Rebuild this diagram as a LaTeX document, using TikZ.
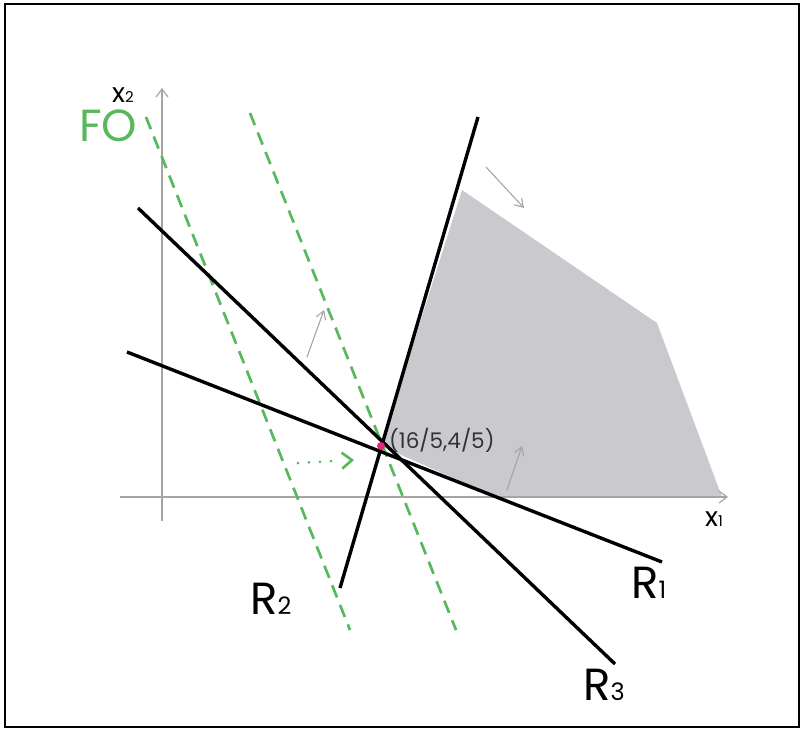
\documentclass[tikz,border=0pt]{standalone}
\usepackage{fontspec}
\setmainfont{Poppins}
\usetikzlibrary{arrows.meta}
\definecolor{fogreen}{RGB}{88,184,92}
\definecolor{regiongray}{RGB}{202,202,206}
\definecolor{axisgray}{RGB}{165,165,165}
\definecolor{ptpink}{RGB}{228,40,120}
\tikzset{
  rline/.style={line width=3.4pt,black},
  foline/.style={line width=2.7pt,fogreen,dash pattern=on 13pt off 8pt},
  axisline/.style={line width=1.4pt,axisgray,-{Straight Barb[length=8pt,width=12pt,line width=1.2pt]}},
  dirarrow/.style={line width=1.1pt,axisgray,-{Straight Barb[length=8pt,width=10pt,line width=1.1pt]}},
  lbl/.style={font=\fontsize{45}{45}\selectfont,inner sep=0pt,anchor=base west},
  axlbl/.style={font=\fontsize{27}{27}\selectfont,inner sep=0pt,anchor=base west}
}
\begin{document}
\begin{tikzpicture}[x=1pt,y=-1pt]
\useasboundingbox (0,0) rectangle (803,731);
\draw[line width=1.4pt] (5,4) rectangle (799,727);
% coordinates
\coordinate (P) at (381,446);
\coordinate (R1a) at (127,352);
\coordinate (R1b) at (662,562);
\coordinate (R2a) at (340,588);
\coordinate (R2b) at (478,117);
\coordinate (R3a) at (138,208);
\coordinate (R3b) at (615,664);
\coordinate (Fa) at (146,117);
\coordinate (Fb) at (350,630);
\coordinate (Ga) at (250,113);
\coordinate (Gb) at (456,630);
\coordinate (X0) at (120,497);
\coordinate (X1) at (728,497);
\coordinate (Y0) at (162,521);
\coordinate (Y1) at (162,88);
% region
\fill[regiongray] (P) -- (496,497) -- (722,497) -- (657,323) -- (462,190) -- cycle;
% axes
\draw[axisline] (X0) -- (X1);
\draw[axisline] (Y0) -- (Y1);
\node[axlbl] (x2lbl) at (112,102) {x\fontsize{15}{15}\selectfont 2};
\node[axlbl] (x1lbl) at (705,526) {x\fontsize{15}{15}\selectfont 1};
% objective function lines
\draw[foline] (Fa) -- (Fb);
\draw[foline] (Ga) -- (Gb);
\node[font=\fontsize{45}{45}\selectfont,text=fogreen,inner sep=0pt,anchor=base west] (FO) at (79,141) {FO};
% constraint lines
\draw[rline] (R1a) -- (R1b);
\draw[rline] (R2a) -- (R2b);
\draw[rline] (R3a) -- (R3b);
% dotted arrow
\coordinate (Da) at (298,463);
\coordinate (Db) at (354,460);
\draw[line width=3pt,fogreen,dash pattern=on 0pt off 11pt,line cap=round] (Da) -- (340,460.7);
\draw[line width=2.6pt,fogreen,-{Straight Barb[length=10pt,width=16pt,line width=2.6pt]}] (352,460.1) -- (Db);
% direction arrows
\coordinate (A1a) at (307,357); \coordinate (A1b) at (324,310);
\coordinate (A2a) at (507,490); \coordinate (A2b) at (522,446);
\coordinate (A3a) at (486,167); \coordinate (A3b) at (524,208);
\draw[dirarrow] (A1a) -- (A1b);
\draw[dirarrow] (A2a) -- (A2b);
\draw[dirarrow] (A3a) -- (A3b);
% point
\fill[ptpink] (P) circle (4pt);
\node[font=\fontsize{21.5}{21.5}\selectfont,text=black!80,inner sep=0pt,anchor=west] (Plbl) at (389,440) {(16/5,4/5)};
% labels
\node[lbl] (R1) at (631,598) {R\fontsize{24}{24}\selectfont 1};
\node[lbl] (R2) at (250,614) {R\fontsize{24}{24}\selectfont 2};
\node[lbl] (R3) at (583,700) {R\fontsize{24}{24}\selectfont 3};
\end{tikzpicture}
\end{document}
